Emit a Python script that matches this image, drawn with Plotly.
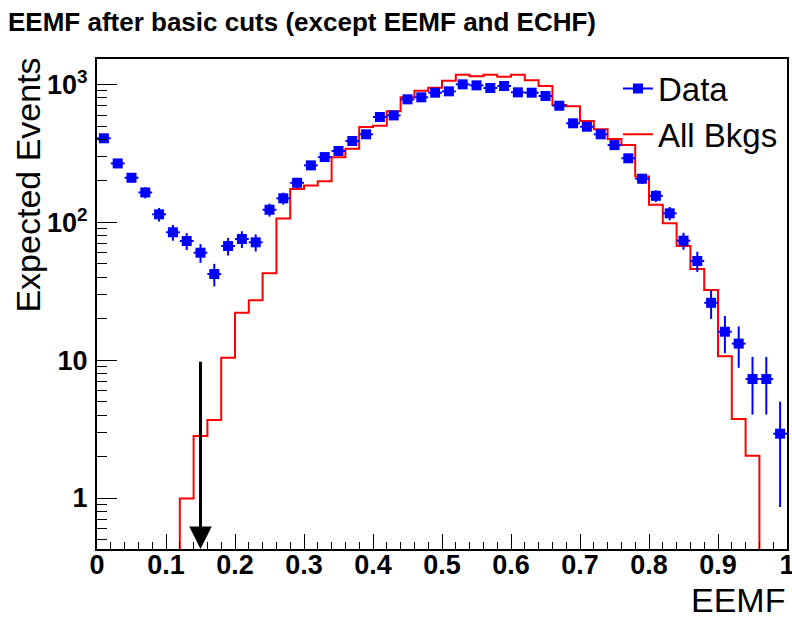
import numpy as np
import plotly.graph_objects as go

# ---- data ----
n_bins = 50
x_min, x_max = 0.0, 1.0

data_values = [408, 268, 211, 165, 114.5, 84.8, 73.3, 60.3, 42.2, 67.4,
               75.8, 71.7, 123.6, 149.6, 194, 259.5, 298, 330, 390, 436,
               582, 598, 782, 809, 874, 894, 1005, 988, 945, 977,
               879, 874, 827, 703, 524, 495, 436, 364, 292, 207.6,
               156, 116.4, 73.7, 52.5, 26.1, 16.1, 13.2, 7.3, 7.3, 2.93]
data_errors = [24.4, 19.8, 17.5, 15.5, 12.9, 11.1, 10.3, 9.4, 7.85, 9.9,
               10.5, 10.2, 13.4, 14.8, 16.8, 19.5, 20.9, 22.0, 23.9, 25.2,
               29.2, 29.5, 33.8, 34.4, 35.7, 36.1, 38.3, 38.0, 37.1, 37.8,
               35.8, 35.7, 34.7, 32.0, 27.7, 26.9, 25.2, 23.0, 20.6, 17.4,
               15.1, 13.0, 10.4, 8.76, 6.17, 4.85, 4.39, 3.27, 3.27, 2.07]
bkg_values = [0, 0, 0, 0, 0, 0, 0.99, 2.82, 3.68, 10.4,
              22.1, 27.2, 42.7, 107, 175, 185, 199, 297, 343, 492,
              503, 640, 809, 903, 950, 1067, 1180, 1148, 1180, 1141,
              1180, 1074, 977, 711, 696, 544, 474, 403, 364, 215,
              134.5, 98.5, 67.4, 45.9, 32.3, 10.7, 3.74, 2.03, 0, 0]

cut_value = 0.15
cut_arrow_top = 10

y_tick_vals = [1, 10, 100, 1000]
y_tick_text = ["1", "10", "10<sup>2</sup>", "10<sup>3</sup>"]
x_tick_vals = [0, 0.1, 0.2, 0.3, 0.4, 0.5, 0.6, 0.7, 0.8, 0.9, 1.0]
x_tick_text = ["0", "0.1", "0.2", "0.3", "0.4", "0.5", "0.6", "0.7", "0.8", "0.9", "1"]

y_log_range = [-0.370, 3.186]

# ---- derived bin geometry ----
bin_w = (x_max - x_min) / n_bins
edges = [x_min + i * bin_w for i in range(n_bins + 1)]
centers = [x_min + (i + 0.5) * bin_w for i in range(n_bins)]
floor_val = 10 ** (y_log_range[0] - 1)
bkg_plot = [v if v > 0 else floor_val for v in bkg_values]
bkg_step_y = bkg_plot + [bkg_plot[-1]]

FONT = "Liberation Sans, Arial, Helvetica, sans-serif"
BLUE = "#0000ff"
RED = "#ff0000"

fig = go.Figure()

fig.add_trace(go.Scatter(
    x=edges, y=bkg_step_y, mode="lines", line=dict(color=RED, width=2, shape="hv"),
    name="All Bkgs", showlegend=False, hoverinfo="skip"))

fig.add_trace(go.Scatter(
    x=centers, y=data_values, mode="markers",
    marker=dict(symbol="square", size=10, color=BLUE),
    error_y=dict(type="data", array=data_errors, color=BLUE, thickness=2, width=0),
    error_x=dict(type="constant", value=bin_w / 2, color=BLUE, thickness=2, width=0),
    name="Data", showlegend=False))

# legend entries
fig.add_trace(go.Scatter(x=[None], y=[None], mode="lines+markers",
                         marker=dict(symbol="square", size=10, color=BLUE),
                         line=dict(color=BLUE, width=2), name="Data", legendgroup="a"))
fig.add_trace(go.Scatter(x=[None], y=[None], mode="lines",
                         line=dict(color=RED, width=2), name="All Bkgs", legendgroup="b"))

# cut arrow
fig.add_annotation(x=cut_value, y=y_log_range[0], xref="x", yref="y",
                   ax=cut_value, ay=np.log10(cut_arrow_top), axref="x", ayref="y",
                   showarrow=True, arrowhead=2, arrowsize=1.5, arrowwidth=3,
                   arrowcolor="black", text="", standoff=0)

# axis titles
fig.add_annotation(text="EEMF", xref="paper", yref="paper", x=1.0, y=-0.104,
                   xanchor="right", yanchor="middle", showarrow=False,
                   font=dict(family=FONT, size=34, color="black"))
fig.add_annotation(text="Expected Events", xref="paper", yref="paper", x=-0.1, y=1.006,
                   xanchor="center", yanchor="top", textangle=-90, showarrow=False,
                   font=dict(family=FONT, size=34, color="black"))

minor_y = [v * 10 ** d for d in range(-1, 4) for v in range(2, 10)]
minor_y = [v for v in minor_y if 0.4 < v < 1600]

fig.update_layout(
    width=792, height=617,
    margin=dict(l=97, r=5, t=59, b=68, autoexpand=False),
    paper_bgcolor="white", plot_bgcolor="white",
    title=dict(text="<b>EEMF after basic cuts (except EEMF and ECHF)</b>",
               xref="container", yref="container", x=8 / 792, xanchor="left",
               y=1 - 22 / 617, yanchor="middle",
               font=dict(family=FONT, size=26, color="black")),
    legend=dict(x=0.755, y=0.997, xanchor="left", yanchor="top",
                bgcolor="rgba(0,0,0,0)", font=dict(family=FONT, size=33, color="black"),
                tracegroupgap=0, itemwidth=30),
    xaxis=dict(range=[x_min, x_max], showgrid=False, zeroline=False,
               showline=True, linecolor="black", linewidth=2, mirror=True,
               ticks="inside", ticklen=15, tickwidth=1, tickcolor="black",
               tickvals=x_tick_vals, ticktext=x_tick_text,
               tickfont=dict(family=FONT, size=27, color="black", weight="bold"),
               minor=dict(ticks="inside", ticklen=7, tickcolor="black", tickwidth=1,
                          dtick=bin_w, showgrid=False),
               ticklabelstandoff=-9, ticklabeloverflow="allow"),
    yaxis=dict(type="log", range=y_log_range, showgrid=False, zeroline=False,
               showline=True, linecolor="black", linewidth=2, mirror=True,
               ticks="inside", ticklen=20, tickwidth=1, tickcolor="black",
               tickvals=y_tick_vals, ticktext=y_tick_text,
               tickfont=dict(family=FONT, size=27, color="black", weight="bold"),
               minor=dict(ticks="inside", ticklen=10, tickcolor="black", tickwidth=1,
                          tickvals=minor_y, showgrid=False),
               ticklabelstandoff=2),
)

fig.write_html("out.html", config={"displayModeBar": False},
               post_script="document.body.style.margin='0';document.body.style.overflow='hidden';")
